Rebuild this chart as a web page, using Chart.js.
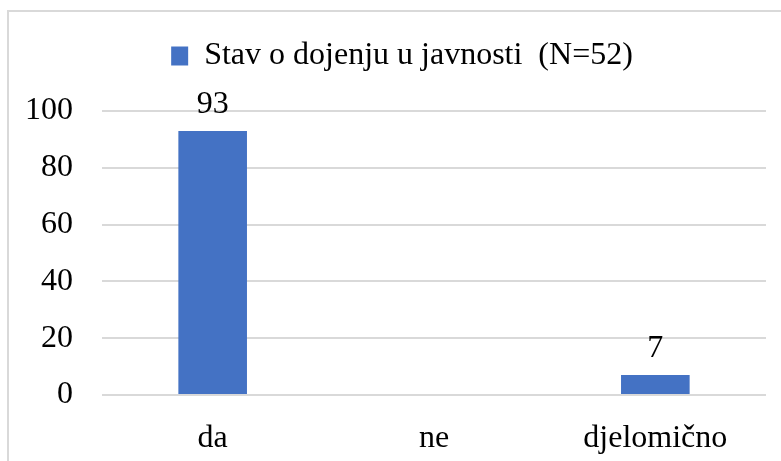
<!DOCTYPE html>
<html>
<head>
<meta charset="utf-8">
<script src="https://cdn.jsdelivr.net/npm/chart.js@4.4.1/dist/chart.umd.min.js"></script>
<style>
  body { margin: 0; background: #fff; overflow: hidden; }
  #wrap { position: relative; width: 781px; height: 461px; }
  #frame { position: absolute; left: 7px; top: 10px; width: 800px; height: 500px; border: 2px solid #d9d9d9; box-sizing: border-box; }
  #chart { position: absolute; left: 0; top: 0; }
</style>
</head>
<body>
<div id="wrap">
  <div id="frame"></div>
  <canvas id="chart" width="781" height="461"></canvas>
</div>
<script>
// podaci
var kategorije = ['da', 'ne', 'djelomično'];
var vrijednosti = [93, 0, 7];
var nazivSerije = 'Stav o dojenju u javnosti  (N=52)';
var yTicks = [0, 20, 40, 60, 80, 100];

var serif = '"Liberation Serif", "Times New Roman", serif';
Chart.defaults.font.family = serif;
Chart.defaults.color = '#000000';

// oznake vrijednosti iznad stupaca
var oznake = {
  id: 'oznake',
  afterDatasetsDraw: function(chart) {
    var ctx = chart.ctx;
    var meta = chart.getDatasetMeta(0);
    ctx.save();
    ctx.font = '32px ' + serif;
    ctx.fillStyle = '#000';
    ctx.textAlign = 'center';
    ctx.textBaseline = 'alphabetic';
    meta.data.forEach(function(bar, i) {
      var v = vrijednosti[i];
      if (!v) return;
      ctx.fillText(v, bar.x, bar.y - 18);
    });
    ctx.restore();
  }
};

// legenda: vise mjesta ispod i malo udesno
var legendaRazmak = {
  id: 'legendaRazmak',
  afterInit: function(chart) {
    var lg = chart.legend;
    var fit = lg.fit;
    lg.fit = function() { fit.apply(this, arguments); this.height += 29; };
    var draw = lg.draw;
    lg.draw = function() {
      var c = this.ctx;
      c.save();
      c.translate(19, 0);
      draw.apply(this, arguments);
      c.restore();
    };
  }
};

var ctx = document.getElementById('chart').getContext('2d');
var graf = new Chart(ctx, {
  type: 'bar',
  data: {
    labels: kategorije,
    datasets: [{
      label: nazivSerije,
      data: vrijednosti,
      backgroundColor: '#4472c4',
      borderWidth: 0,
      categoryPercentage: 1,
      barPercentage: 0.31
    }]
  },
  options: {
    responsive: false,
    animation: false,
    layout: { padding: { top: 30, right: 15, left: 0, bottom: 0 } },
    plugins: {
      legend: {
        position: 'top',
        labels: { boxWidth: 17, boxHeight: 19, padding: 10, font: { size: 32 }, color: '#000' }
      },
      tooltip: { enabled: false }
    },
    scales: {
      x: {
        grid: { display: false },
        border: { display: false },
        ticks: { font: { size: 32 }, padding: 16, color: '#000' },
        afterFit: function(s) { s.height = 66; }
      },
      y: {
        min: 0,
        max: 100,
        afterBuildTicks: function(s) { s.ticks = yTicks.map(function(v) { return { value: v }; }); },
        grid: { color: '#d9d9d9', lineWidth: 2, drawTicks: false },
        border: { display: false },
        ticks: { font: { size: 32 }, padding: 29, color: '#000' },
        afterFit: function(s) { s.width = 102; }
      }
    }
  },
  plugins: [oznake, legendaRazmak]
});
</script>
</body>
</html>
